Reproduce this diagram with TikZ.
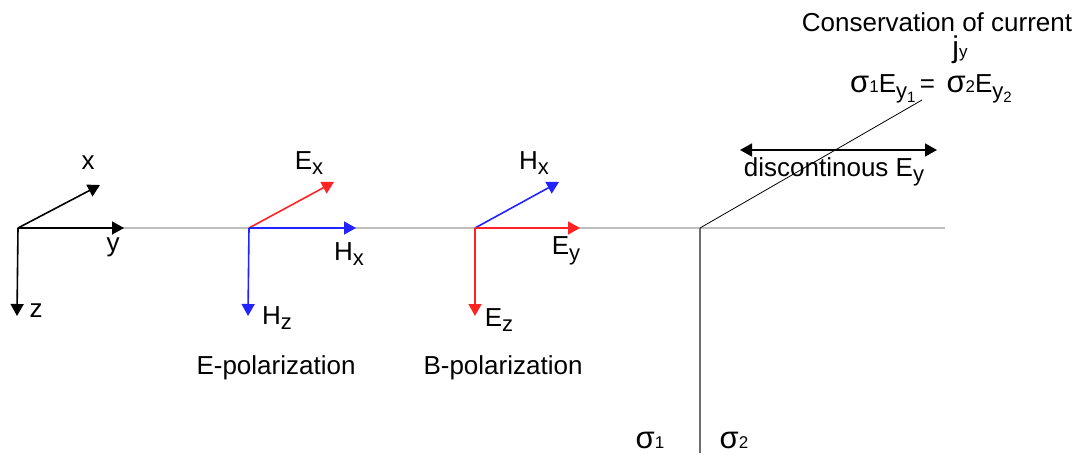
\documentclass[tikz,border=0pt]{standalone}
\usepackage{fontspec}
\setmainfont{Liberation Sans}
\usetikzlibrary{arrows.meta}
\definecolor{vred}{RGB}{255,35,35}
\definecolor{vblue}{RGB}{35,35,255}
\definecolor{lgray}{RGB}{190,190,190}
\definecolor{dgray}{RGB}{110,110,110}
\newcommand\sbx[1]{\raisebox{-0.22em}{\fontsize{22}{24}\selectfont #1}}
\newcommand\sml[1]{{\fontsize{17}{19}\selectfont #1}}
\newcommand\sig{{\fontsize{31}{32}\selectfont σ}}
\tikzset{
  vec/.style={line width=1.6pt,-{Triangle[width=13pt,length=12pt]}},
  lbl/.style={inner sep=0pt,font=\fontsize{26}{30}\selectfont},
}
\begin{document}
\begin{tikzpicture}[x=1pt,y=-1pt]
\useasboundingbox (0,0) rectangle (1086,457);
% coordinates
\coordinate (O) at (18,228);
\coordinate (xt) at (100,185);
\coordinate (yt) at (124,228);
\coordinate (zt) at (17,316);
\coordinate (E0) at (249,228);
\coordinate (Ext) at (334,182);
\coordinate (Hxt) at (356,228);
\coordinate (Hzt) at (248,316);
\coordinate (B0) at (475,228);
\coordinate (BHxt) at (559,182);
\coordinate (Eyt) at (580,228);
\coordinate (Ezt) at (475,316);
\coordinate (gL) at (110,228);
\coordinate (gR) at (945,228);
\coordinate (J) at (700,228);
\coordinate (Jb) at (700,453);
\coordinate (Jd) at (922,100);
\coordinate (dL) at (740,150);
\coordinate (dR) at (937,150);
% interface lines
\draw[lgray,line width=1.8pt] (gL) -- (gR);
\draw[dgray,line width=1.3pt] (J) -- (Jb);
\draw[black,line width=0.8pt] (J) -- (Jd);
% axes
\draw[vec,black] (O) -- (xt);
\draw[vec,black] (O) -- (yt);
\draw[vec,black] (O) -- (zt);
% E-polarization
\draw[vec,vred] (E0) -- (Ext);
\draw[vec,vblue] (E0) -- (Hxt);
\draw[vec,vblue] (E0) -- (Hzt);
% B-polarization
\draw[vec,vblue] (B0) -- (BHxt);
\draw[vec,vred] (B0) -- (Eyt);
\draw[vec,vred] (B0) -- (Ezt);
% discontinuous arrow
\draw[line width=1.6pt,{Triangle[width=13pt,length=12pt]}-{Triangle[width=13pt,length=12pt]}] (dL) -- (dR);
% labels
\node[lbl] (lx) at (88,163) {x};
\node[lbl] (ly) at (113,247) {y};
\node[lbl] (lz) at (36,311) {z};
\node[lbl] (lEx) at (309,163) {E\sbx{x}};
\node[lbl] (lHx) at (349,254) {H\sbx{x}};
\node[lbl] (lHz) at (277,318) {H\sbx{z}};
\node[lbl] (lBHx) at (534,163) {H\sbx{x}};
\node[lbl] (lEy) at (566,251) {E\sbx{y}};
\node[lbl] (lEz) at (499,320) {E\sbx{z}};
\node[lbl] (lEpol) at (276,368) {E-polarization};
\node[lbl] (lBpol) at (503,368) {B-polarization};
\node[lbl] (ls1) at (650,440) {\sig\sml{1}};
\node[lbl] (ls2) at (734,440) {\sig\sml{2}};
\node[lbl] (ldisc) at (834,172) {discontinous E\sbx{y}};
\node[lbl] (lcons) at (937,22) {Conservation of current};
\node[lbl] (ljy) at (960,50) {{\fontsize{30}{32}\selectfont j}\sml{y}};
\node[lbl] (leq) at (931,89) {\sig\sml{1}E\sbx{y\raisebox{-0.2em}{\fontsize{15}{16}\selectfont 1}}\,=\, \sig\sml{2}E\sbx{y\raisebox{-0.2em}{\fontsize{15}{16}\selectfont 2}}};
\end{tikzpicture}
\end{document}
